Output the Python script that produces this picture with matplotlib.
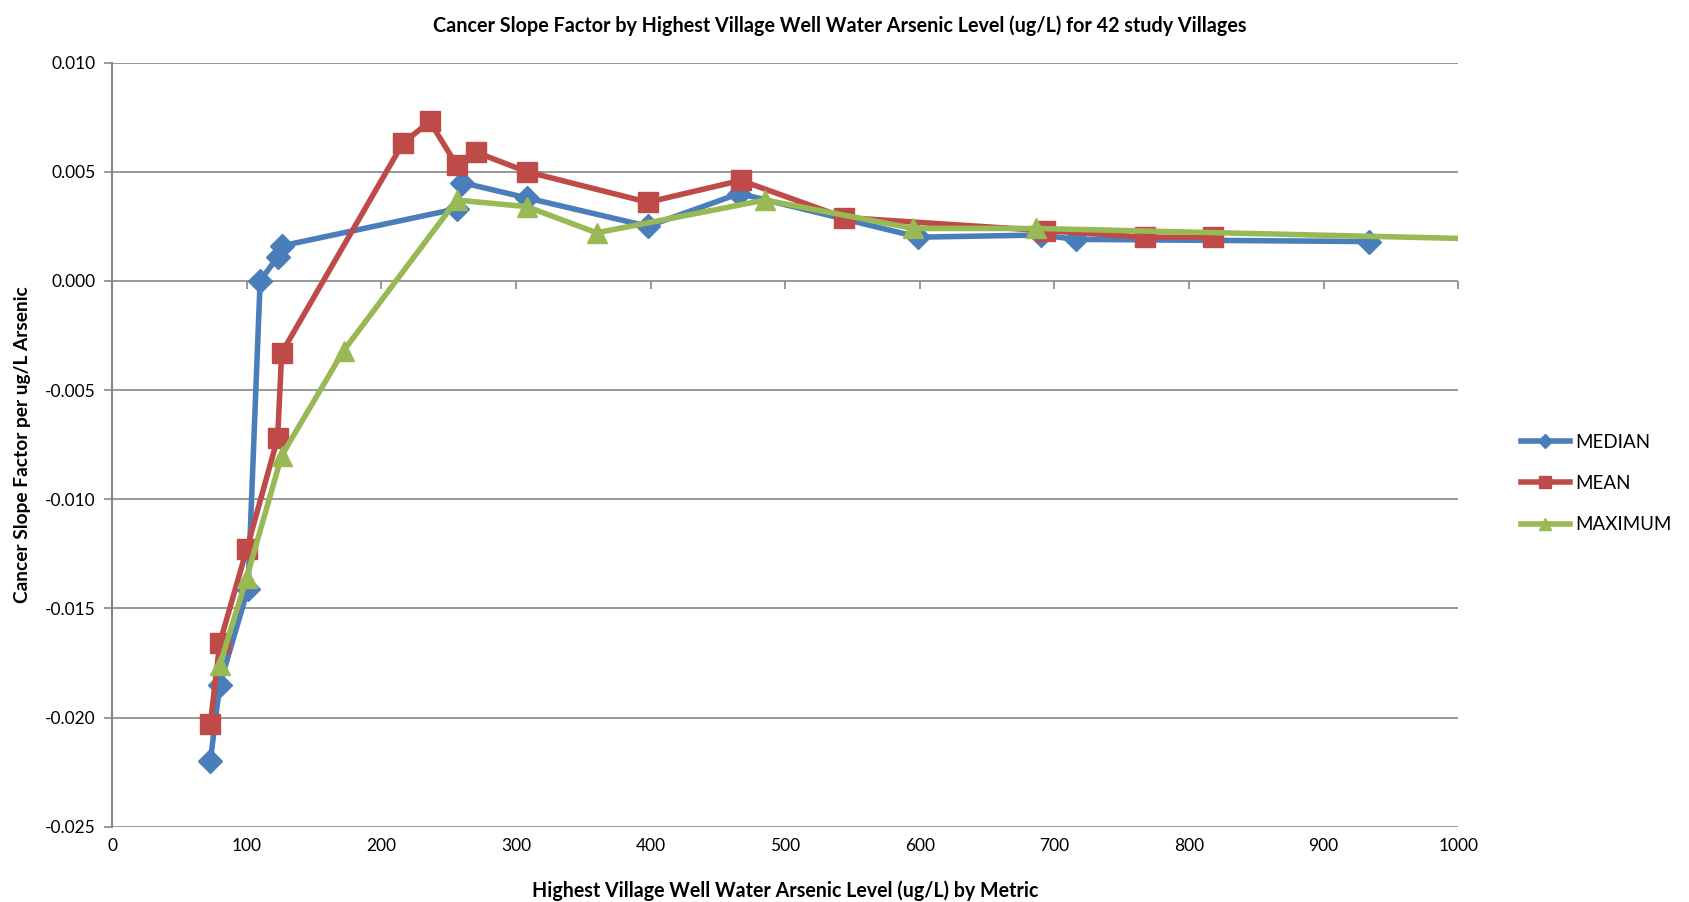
import matplotlib.pyplot as plt
import numpy as np

plt.rcParams['font.family'] = ['Lato', 'DejaVu Sans']

# data
median_x = [73, 80, 101, 110, 123, 126, 256, 260, 308, 398, 466, 599, 690, 716, 934]
median_y = [-0.0220, -0.0185, -0.0141, 0.0000, 0.0011, 0.0016, 0.0033, 0.0045,
            0.0038, 0.0025, 0.0040, 0.0020, 0.0021, 0.0019, 0.0018]

mean_x = [73, 80, 100, 123, 126, 216, 236, 256, 270, 308, 398, 467, 544, 693, 767, 818]
mean_y = [-0.0203, -0.0166, -0.0123, -0.0072, -0.0033, 0.0063, 0.0073, 0.0053,
          0.0059, 0.0050, 0.0036, 0.0046, 0.0029, 0.0023, 0.0020, 0.0020]

max_x = [80, 100, 126, 172, 256, 308, 360, 485, 595, 686, 1100]
max_y = [-0.0176, -0.0136, -0.0080, -0.0032, 0.0037, 0.0034, 0.0022, 0.0037,
         0.0024, 0.0024, 0.0018]

x_ticks = [0, 100, 200, 300, 400, 500, 600, 700, 800, 900, 1000]
y_ticks = [-0.025, -0.020, -0.015, -0.010, -0.005, 0.000, 0.005, 0.010]

blue = '#4A7EBB'
red = '#BE4B48'
green = '#98B954'
grid_col = '#868686'

fig = plt.figure(figsize=(16.9, 9.02), dpi=100)
ax = fig.add_axes([0.0663, 0.0835, 0.7966, 0.8472])

ax.plot(median_x, median_y, color=blue, lw=4, marker='D', ms=12,
        label='MEDIAN', zorder=3)
ax.plot(mean_x, mean_y, color=red, lw=4, marker='s', ms=14,
        label='MEAN', zorder=4)
ax.plot(max_x, max_y, color=green, lw=4, marker='^', ms=15,
        label='MAXIMUM', zorder=5)

ax.set_xlim(0, 1000)
ax.set_ylim(-0.025, 0.010)
ax.set_yticks(y_ticks)
ax.set_yticklabels([f'{v:.3f}' for v in y_ticks])
ax.set_xticks(x_ticks)
ax.set_xticklabels([str(v) for v in x_ticks])

ax.grid(axis='y', color=grid_col, lw=1.2)
ax.set_axisbelow(True)
for s in ['top', 'right', 'bottom']:
    ax.spines[s].set_visible(False)
ax.spines['left'].set_color(grid_col)
ax.spines['left'].set_linewidth(1.5)
ax.tick_params(axis='y', direction='out', length=6, color=grid_col,
               width=1.2, labelsize=12.5, pad=6)
ax.tick_params(axis='x', length=0, labelsize=12.5, pad=8)

# horizontal axis line crosses at y = 0
sec = ax.secondary_xaxis(0.025 / 0.035)
sec.set_xticks(x_ticks)
sec.tick_params(direction='out', length=6, color=grid_col, width=1.2,
                labeltop=False, labelbottom=False, top=False, bottom=True)
sec.spines['top'].set_visible(False)
sec.spines['bottom'].set_color(grid_col)
sec.spines['bottom'].set_linewidth(1.5)

fig.suptitle('Cancer Slope Factor by Highest Village Well Water Arsenic Level (ug/L) for 42 study Villages',
             fontsize=14.2, fontweight='bold', x=0.497, y=0.972, va='center')
ax.set_xlabel('Highest Village Well Water Arsenic Level (ug/L) by Metric',
              fontsize=14.1, fontweight='bold', labelpad=19)
ax.set_ylabel('Cancer Slope Factor per ug/L Arsenic', fontsize=13.8,
              fontweight='bold', labelpad=10)

fig.legend(loc='center left', bbox_to_anchor=(0.89, 0.464), frameon=False,
           fontsize=13.5, handlelength=2.6, handletextpad=0.3,
           labelspacing=1.3, markerscale=0.6)

plt.savefig('out.png', dpi=100)
